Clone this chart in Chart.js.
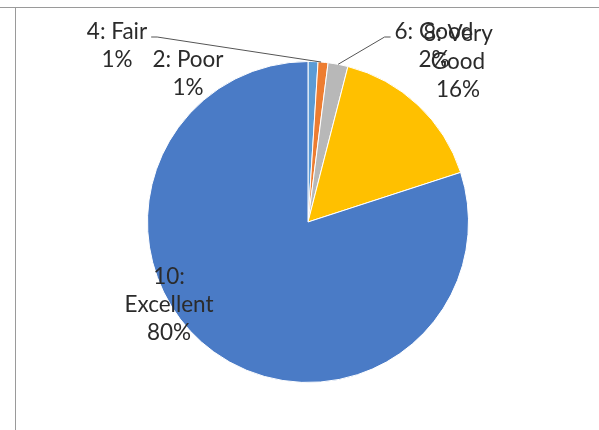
<!DOCTYPE html>
<html><head><meta charset="utf-8">
<script src="https://cdn.jsdelivr.net/npm/chart.js@4"></script>
<style>
html,body{margin:0;padding:0;background:#fff;}
#wrap{position:relative;width:599px;height:430px;overflow:hidden;background:#fff;}
#wrap canvas{position:absolute;left:0;top:0;}
.ln{position:absolute;background:#9a9a9a;}
</style></head><body>
<div id="wrap">
  <canvas id="c" width="599" height="430"></canvas>
  <div class="ln" style="left:0;top:7px;width:599px;height:1px;"></div>
  <div class="ln" style="left:15px;top:7px;width:1px;height:423px;"></div>
</div>
<script>
const categories = ["2: Poor", "4: Fair", "6: Good", "8: Very Good", "10: Excellent"];
const percents = [1, 1, 2, 16, 80];
const sliceColors = ["#5B9BD5", "#ED7D31", "#B8B8B8", "#FFC000", "#4A7BC6"];

// label text lines (as in the reference) and their placement relative to pie centre
const labelLines = [
  ["2: Poor", "1%"],
  ["4: Fair", "1%"],
  ["6: Good", "2%"],
  ["8: Very", "Good", "16%"],
  ["10:", "Excellent", "80%"]
];
const labelOffsets = [
  {dx: -120, dy: -162},
  {dx: -191, dy: -190},
  {dx: 126, dy: -190},
  {dx: 150, dy: -188},
  {dx: -139, dy: 55}
];
const leaders = {1: {side: "right"}, 2: {side: "left"}};

const labelPlugin = {
  id: 'labels',
  afterDraw(chart) {
    const ctx = chart.ctx;
    const meta = chart.getDatasetMeta(0);
    const cx = meta.data[0].x, cy = meta.data[0].y;
    const lh = 28;
    ctx.save();
    ctx.font = '22.5px Lato, "Open Sans", sans-serif';
    ctx.fillStyle = '#2b2b2b';
    ctx.textAlign = 'center';
    ctx.textBaseline = 'middle';
    labelLines.forEach((lines, i) => {
      const o = labelOffsets[i];
      const x = cx + o.dx, y0 = cy + o.dy;
      lines.forEach((t, k) => ctx.fillText(t, x, y0 + k * lh));
      if (leaders[i]) {
        const arc = meta.data[i];
        const ang = leaders[i].side === 'right' ? arc.startAngle + (arc.endAngle - arc.startAngle) * 0.3
                                                : (arc.startAngle + arc.endAngle) / 2;
        const ax = cx + Math.cos(ang) * arc.outerRadius;
        const ay = cy + Math.sin(ang) * arc.outerRadius;
        const w = ctx.measureText(lines[0]).width;
        let sx, ex;
        if (leaders[i].side === 'right') { sx = x + w / 2 + 4; ex = sx + 6; }
        else { sx = x - w / 2 - 4; ex = sx - 6; }
        ctx.strokeStyle = '#555';
        ctx.lineWidth = 1;
        ctx.beginPath();
        ctx.moveTo(sx, y0 + 5);
        ctx.lineTo(ex, y0 + 5);
        ctx.lineTo(ax, ay);
        ctx.stroke();
      }
    });
    ctx.restore();
  }
};

new Chart(document.getElementById('c'), {
  type: 'pie',
  data: {
    labels: categories,
    datasets: [{
      data: percents,
      backgroundColor: sliceColors,
      borderColor: '#ffffff',
      borderWidth: 1
    }]
  },
  options: {
    responsive: false,
    animation: false,
    layout: {padding: {left: 147, right: 130, top: 61, bottom: 47}},
    plugins: {legend: {display: false}, tooltip: {enabled: false}}
  },
  plugins: [labelPlugin]
});
</script>
</body></html>
